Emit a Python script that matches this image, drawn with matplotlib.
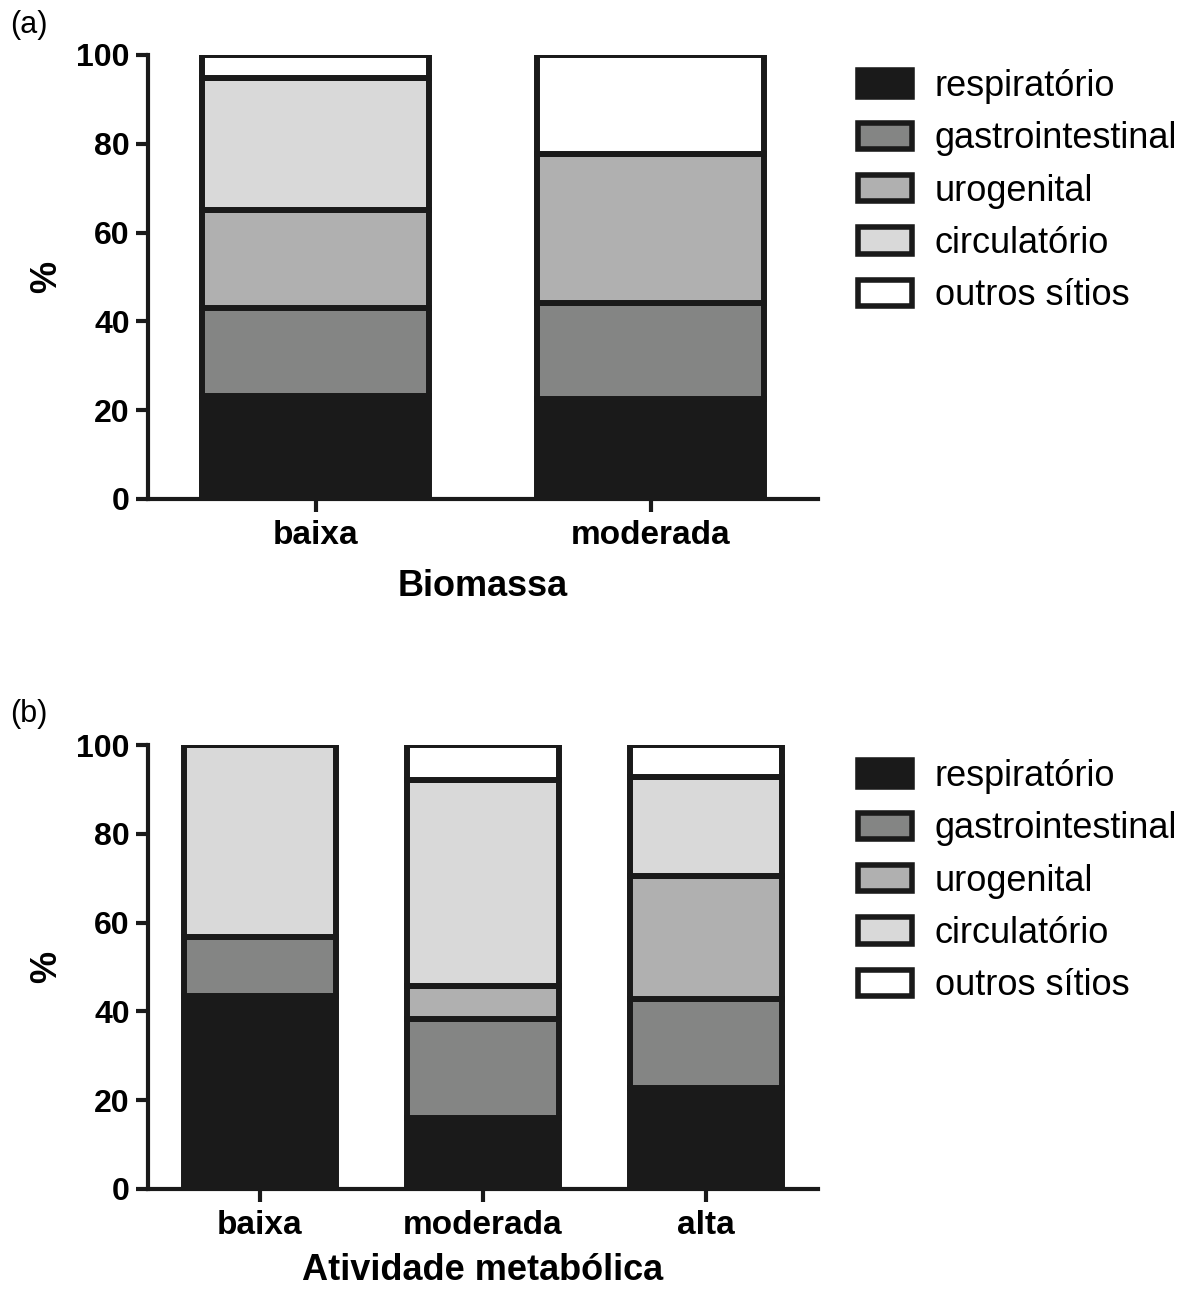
import matplotlib
matplotlib.use("Agg")
import matplotlib.pyplot as plt
import numpy as np
from matplotlib.patches import Patch

plt.rcParams['font.family'] = ['Liberation Sans', 'DejaVu Sans']

series = ["respiratório", "gastrointestinal", "urogenital", "circulatório", "outros sítios"]
colors = ["#1a1a1a", "#848584", "#b0b0b0", "#d9d9d9", "#ffffff"]

cats_a = ["baixa", "moderada"]
resp_a = [23.3, 22.5]
gastro_a = [19.8, 21.7]
uro_a = [21.9, 33.4]
circ_a = [29.9, 0.0]
outros_a = [5.1, 22.4]

cats_b = ["baixa", "moderada", "alta"]
resp_b = [43.4, 15.9, 22.7]
gastro_b = [13.4, 22.4, 20.2]
uro_b = [0.0, 7.4, 27.7]
circ_b = [43.2, 46.4, 22.2]
outros_b = [0.0, 7.9, 7.2]

xlabel_a = "Biomassa"
xlabel_b = "Atividade metabólica"
yticks = [0, 20, 40, 60, 80, 100]

W, H = 1190, 1289
fig = plt.figure(figsize=(W / 100, H / 100), dpi=100)

EDGE = "#1a1a1a"
LW = 4.3


def panel(rect, cats, data, xlabel, label, label_y, leg_y, xlpad):
    ax = fig.add_axes(rect)
    x = np.arange(len(cats))
    bottom = np.zeros(len(cats))
    for vals, col, name in zip(data, colors, series):
        v = np.array(vals, dtype=float)
        ax.bar(x, v, bottom=bottom, width=0.68, color=col, edgecolor=EDGE,
               linewidth=LW, label=name, zorder=2)
        bottom += v
    ax.set_xlim(-0.5, len(cats) - 0.5)
    ax.set_ylim(0, 100)
    ax.set_yticks(yticks)
    ax.set_xticks(x)
    ax.set_xticklabels(cats, fontsize=24, fontweight='bold')
    ax.set_yticklabels([str(t) for t in yticks], fontsize=23, fontweight='bold')
    for s in ["top", "right"]:
        ax.spines[s].set_visible(False)
    for s in ["left", "bottom"]:
        ax.spines[s].set_linewidth(3.0)
        ax.spines[s].set_color(EDGE)
        ax.spines[s].set_zorder(3)
    ax.tick_params(axis='both', width=3.0, length=9, color=EDGE, pad=4)
    ax.tick_params(axis='x', pad=6)
    ax.set_xlabel(xlabel, fontsize=26, fontweight='bold', labelpad=xlpad)
    ax.set_ylabel("%", fontsize=26, fontweight='bold', labelpad=9)
    fig.text(10 / W, 1 - label_y / H, label, fontsize=22, va='top', ha='left')
    handles = [Patch(facecolor=c, edgecolor=EDGE, linewidth=4.0) for c in colors]
    fig.legend(handles, series, loc='upper left',
               bbox_to_anchor=(858 / W, 1 - leg_y / H),
               frameon=False, fontsize=26, handlelength=1.5, handleheight=0.75,
               handletextpad=0.62, labelspacing=0.48, borderpad=0, borderaxespad=0)
    return ax


ax_a = panel([148 / W, 1 - 499 / H, 670 / W, 444 / H], cats_a,
             [resp_a, gastro_a, uro_a, circ_a, outros_a], xlabel_a, "(a)", 10, 69, 13)
ax_b = panel([148 / W, 1 - 1189 / H, 670 / W, 444 / H], cats_b,
             [resp_b, gastro_b, uro_b, circ_b, outros_b], xlabel_b, "(b)", 699, 759, 9)

fig.savefig("out.png", dpi=100, facecolor="white")
